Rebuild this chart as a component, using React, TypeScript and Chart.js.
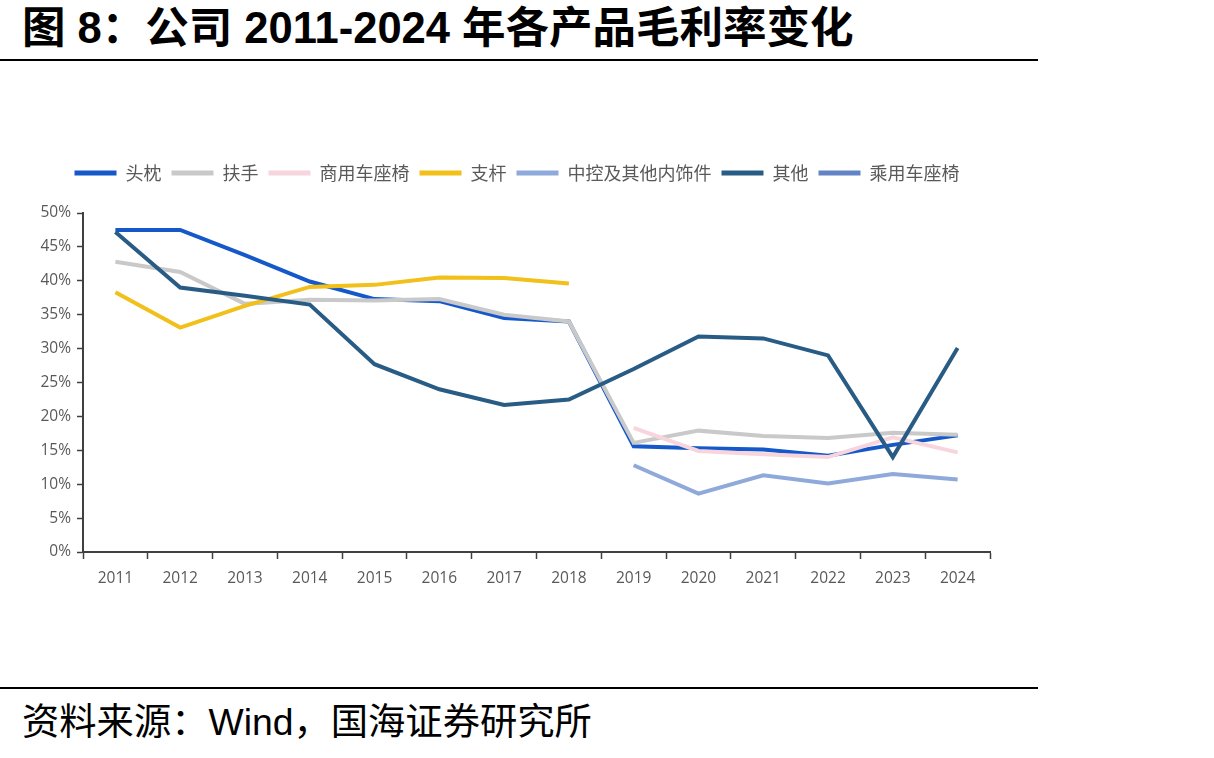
import { useEffect, useRef } from 'react';
import { Chart, registerables } from 'chart.js';

Chart.register(...registerables);

const years = ['2011', '2012', '2013', '2014', '2015', '2016', '2017', '2018', '2019', '2020', '2021', '2022', '2023', '2024'];

const headrest = [47.5, 47.5, 43.8, 39.9, 37.3, 37.0, 34.5, 34.0, 15.6, 15.3, 15.1, 14.2, 15.8, 17.2];
const armrest = [42.8, 41.3, 36.6, 37.2, 37.1, 37.3, 35.0, 34.0, 16.1, 17.9, 17.1, 16.8, 17.6, 17.3];
const commercialSeat = [null, null, null, null, null, null, null, null, 18.3, 14.9, 14.4, 14.0, 16.9, 14.7];
const strut = [38.3, 33.1, 36.3, 39.1, 39.4, 40.5, 40.4, 39.6, null, null, null, null, null, null];
const consoleTrim = [null, null, null, null, null, null, null, null, 12.8, 8.6, 11.3, 10.1, 11.5, 10.7];
const others = [47.2, 39.0, 37.8, 36.5, 27.7, 24.0, 21.7, 22.5, 27.0, 31.8, 31.5, 29.0, 14.0, 30.1];
const passengerSeat = [null, null, null, null, null, null, null, null, null, null, null, null, null, null];

const seriesNames = ['头枕', '扶手', '商用车座椅', '支杆', '中控及其他内饰件', '其他', '乘用车座椅'];
const seriesColors = ['#1558c9', '#c9c9c9', '#f8d5dc', '#f1c01a', '#8fa9db', '#285c85', '#6283c6'];
const yTicks = [0, 5, 10, 15, 20, 25, 30, 35, 40, 45, 50];

export default function App() {
  const ref = useRef<HTMLCanvasElement | null>(null);

  useEffect(() => {
    if (!ref.current) return;
    const seriesData = [headrest, armrest, commercialSeat, strut, consoleTrim, others, passengerSeat];
    const legendSpacer = {
      id: 'legendSpacer',
      beforeInit(chart: any) {
        const orig = chart.legend.fit;
        chart.legend.fit = function () {
          orig.bind(chart.legend)();
          this.height += 21;
        };
      },
      afterLayout(chart: any) {
        chart.legend.left += 44;
      },
    };
    const chart = new Chart(ref.current, {
      type: 'line',
      data: {
        labels: years,
        datasets: seriesData.map((d, i) => ({
          label: seriesNames[i],
          data: d,
          borderColor: seriesColors[i],
          backgroundColor: seriesColors[i],
          borderWidth: 4,
          pointRadius: 0,
          pointHoverRadius: 0,
          tension: 0,
          spanGaps: false,
          order: 10 - i,
        })),
      },
      options: {
        responsive: false,
        animation: false,
        layout: { padding: { top: 14, right: 50, left: 0, bottom: 0 } },
        plugins: {
          legend: {
            position: 'top',
            labels: {
              boxWidth: 42,
              boxHeight: 5,
              padding: 10,
              color: '#595959',
              font: { family: '"Noto Sans CJK SC", sans-serif', size: 18 },
              sort: (a: any, b: any) => a.datasetIndex - b.datasetIndex,
              generateLabels: (c: any) =>
                (Chart.defaults.plugins.legend.labels as any).generateLabels(c).map((l: any) => ({ ...l, lineWidth: 0 })),
            },
          },
          tooltip: { enabled: false },
        },
        scales: {
          x: {
            offset: true,
            grid: { offset: true, drawOnChartArea: false, drawTicks: true, tickLength: 7, tickColor: '#404040', tickWidth: 1.5 },
            border: { display: true, color: '#404040', width: 2 },
            ticks: { color: '#595959', font: { family: '"Open Sans", sans-serif', size: 15.5 }, padding: 10, maxRotation: 0 },
            afterFit: (s: any) => { s.height = 58; },
          },
          y: {
            min: 0,
            max: 50,
            afterBuildTicks: (s: any) => { s.ticks = yTicks.map((v) => ({ value: v })); },
            grid: { drawOnChartArea: false, drawTicks: true, tickLength: 6, tickColor: '#404040', tickWidth: 1.5 },
            border: { display: true, color: '#404040', width: 2 },
            ticks: { color: '#595959', font: { family: '"Open Sans", sans-serif', size: 15.5 }, padding: 6, callback: (v: any) => v + '%' },
            afterFit: (s: any) => { s.width = 83; },
          },
        },
      },
      plugins: [legendSpacer],
    });
    return () => chart.destroy();
  }, []);

  return (
    <div style={{ position: 'absolute', left: 0, top: 0, width: 1214, height: 758, background: '#fff', overflow: 'hidden' }}>
      <div style={{ position: 'absolute', left: 22, top: 2, fontSize: 43.5, fontWeight: 700, lineHeight: '52px', whiteSpace: 'nowrap', color: '#000', fontFamily: '"Liberation Sans", "Noto Sans CJK SC", sans-serif' }}>
        图 8：公司 2011-2024 年各产品毛利率变化
      </div>
      <div style={{ position: 'absolute', left: 0, top: 59, width: 1038, height: 2, background: '#000' }} />
      <div style={{ position: 'absolute', left: 0, top: 140, width: 1040, height: 470 }}>
        <canvas ref={ref} width={1040} height={470} />
      </div>
      <div style={{ position: 'absolute', left: 0, top: 687, width: 1038, height: 2, background: '#000' }} />
      <div style={{ position: 'absolute', left: 22, top: 698, fontSize: 37.3, lineHeight: '48px', whiteSpace: 'nowrap', color: '#000', fontFamily: '"Liberation Sans", "Noto Sans CJK SC", sans-serif' }}>
        资料来源：Wind，国海证券研究所
      </div>
    </div>
  );
}
